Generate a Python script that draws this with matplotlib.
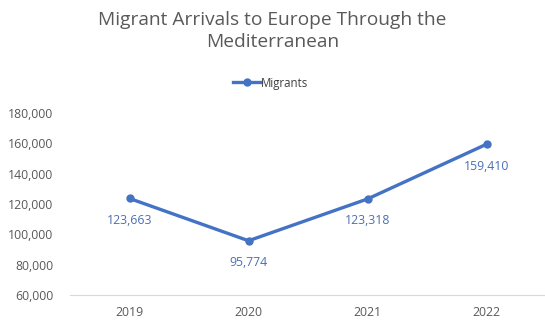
import matplotlib
matplotlib.use("Agg")
import matplotlib.pyplot as plt
from matplotlib.ticker import FuncFormatter

years = ["2019", "2020", "2021", "2022"]
migrants = [123663, 95774, 123318, 159410]
series_name = "Migrants"
title = "Migrant Arrivals to Europe Through the\nMediterranean"

plt.rcParams['font.family'] = ['Open Sans', 'DejaVu Sans']

fig = plt.figure(figsize=(5.45, 3.22), dpi=100)
ax = fig.add_axes([70/545, (322-295)/322, 476/545, (295-113)/322])

x = list(range(len(years)))
line_color = "#4472C4"
ax.plot(x, migrants, color=line_color, lw=2.4, marker='o', ms=5, label=series_name)
for xi, v in zip(x, migrants):
    ax.annotate(f"{v:,}", (xi, v), xytext=(0, -11), textcoords='offset points',
                ha='center', va='top', fontsize=8.8, color="#4A6FB5")

ax.set_xlim(-0.5, len(years) - 0.5)
ax.set_ylim(60000, 180000)
ax.set_yticks(range(60000, 180001, 20000))
ax.yaxis.set_major_formatter(FuncFormatter(lambda v, p: f"{int(v):,}"))
ax.set_xticks(x)
ax.set_xticklabels(years)
ax.tick_params(axis='both', length=0, labelsize=8.8, colors="#595959")
ax.tick_params(axis='y', pad=12)
ax.tick_params(axis='x', pad=8)
for s in ['top', 'right', 'left']:
    ax.spines[s].set_visible(False)
ax.spines['bottom'].set_color("#D9D9D9")

fig.text(0.5, 0.965, title, ha='center', va='top', fontsize=13.8, color="#595959",
         linespacing=1.25)
leg = fig.legend(loc='center', bbox_to_anchor=(0.497, 1 - 83/322), frameon=False,
                 fontsize=8.3, handlelength=2.4, handletextpad=0.0)
for t in leg.get_texts():
    t.set_color("#404040")

fig.savefig("out.png", dpi=100)
